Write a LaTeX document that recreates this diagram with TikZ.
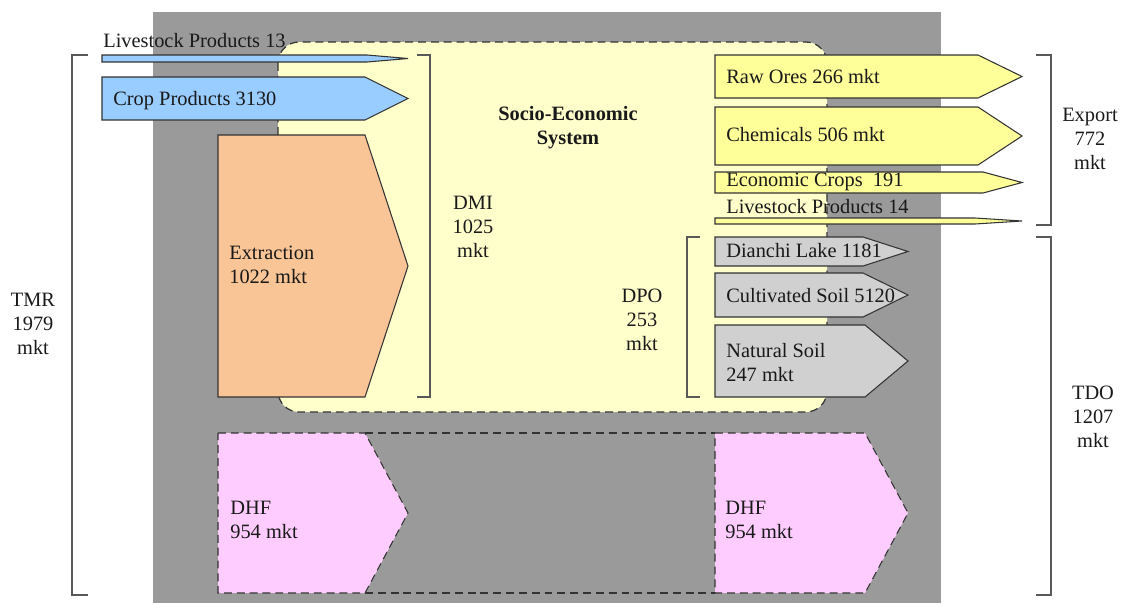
\documentclass[tikz,border=0pt]{standalone}
\usepackage{fontspec}
\setmainfont{Liberation Serif}
\definecolor{bggray}{HTML}{9A9A9A}
\definecolor{sesyellow}{HTML}{FFFFCC}
\definecolor{inblue}{HTML}{99CCFF}
\definecolor{extorange}{HTML}{F9C496}
\definecolor{outyellow}{HTML}{FFFF99}
\definecolor{dpogray}{HTML}{D0D0D0}
\definecolor{dhfpink}{HTML}{FFCCFF}
\tikzset{
  flow/.style={draw=black!80, line width=0.6pt, line join=miter},
  dsh/.style={dash pattern=on 4.5pt off 2.8pt},
  brk/.style={draw=black!65, line width=0.9pt},
  lbl/.style={inner sep=0pt, anchor=north west, align=left, text=black!90,
    font=\fontsize{11.6}{13.6}\selectfont},
  tot/.style={inner sep=0pt, anchor=north, align=center, text=black!90,
    font=\fontsize{11.6}{13.6}\selectfont}
}
\begin{document}
\begin{tikzpicture}[x=0.02cm,y=-0.02cm]
\useasboundingbox (0,0) rectangle (1125,603);
% background and socio-economic system
\fill [bggray] (153,12) rectangle (941,603);
\filldraw [sesyellow, draw=black!80, line width=0.7pt, dsh, rounded corners=12pt] (278,42) rectangle (827,412);
\node [tot, font=\fontsize{11.6}{13.6}\selectfont\bfseries] (ses) at (568,106) {Socio-Economic\\System};
% inputs
\filldraw [flow, fill=inblue] (102,55)--(367,55)--(408,58.5)--(367,62)--(102,62)--cycle;
\filldraw [flow, fill=inblue] (102,77)--(365,77)--(408,98.5)--(365,120)--(102,120)--cycle;
\filldraw [flow, fill=extorange] (218,135)--(365,135)--(408,266)--(365,397)--(218,397)--cycle;
\node [lbl] (lp13) at (103,33) {Livestock Products 13};
\node [lbl] (crop) at (113,91) {Crop Products 3130};
\node [lbl] (extr) at (229,246) {Extraction\\1022 mkt};
% exports
\filldraw [flow, fill=outyellow] (715,55)--(978,55)--(1022,76.5)--(978,98)--(715,98)--cycle;
\filldraw [flow, fill=outyellow] (715,107)--(978,107)--(1022,136)--(978,165)--(715,165)--cycle;
\filldraw [flow, fill=outyellow] (715,172)--(983,172)--(1022,182.5)--(983,193)--(715,193)--cycle;
\filldraw [flow, fill=outyellow] (715,218)--(975,218)--(1022,221)--(975,224)--(715,224)--cycle;
\node [lbl] (raw) at (726,69) {Raw Ores 266 mkt};
\node [lbl] (chem) at (726,127) {Chemicals 506 mkt};
\node [lbl] (econ) at (726,173) {Economic Crops~ 191};
\node [lbl] (lp14) at (726,199) {Livestock Products 14};
% domestic processed output
\filldraw [flow, fill=dpogray] (715,237)--(863,237)--(908,251.5)--(863,266)--(715,266)--cycle;
\filldraw [flow, fill=dpogray] (715,273)--(863,273)--(908,295)--(863,317)--(715,317)--cycle;
\filldraw [flow, fill=dpogray] (715,325)--(865,325)--(908,361)--(865,397)--(715,397)--cycle;
\node [lbl] (dian) at (726,243) {Dianchi Lake 1181};
\node [lbl] (cult) at (726,288) {Cultivated Soil 5120};
\node [lbl] (nat) at (726,343) {Natural Soil\\247 mkt};
% hidden flows
\draw [flow, dsh] (365,433)--(715,433);
\draw [flow, dsh] (365,593)--(715,593);
\filldraw [flow, dsh, fill=dhfpink] (218,433)--(365,433)--(408,513)--(365,593)--(218,593)--cycle;
\filldraw [flow, dsh, fill=dhfpink] (715,433)--(865,433)--(908,513)--(865,593)--(715,593)--cycle;
\node [lbl] (dhfin) at (230,501) {DHF\\954 mkt};
\node [lbl] (dhfout) at (725,501) {DHF\\954 mkt};
% brackets
\draw [brk] (88,55)--(72,55)--(72,595)--(88,595);
\draw [brk] (417,55)--(430,55)--(430,397)--(417,397);
\draw [brk] (700,237)--(687,237)--(687,397)--(700,397);
\draw [brk] (1036,55)--(1051,55)--(1051,225)--(1036,225);
\draw [brk] (1036,237)--(1051,237)--(1051,595)--(1036,595);
\node [tot] (tmr) at (33,293) {TMR\\1979\\mkt};
\node [tot] (dmi) at (473,196) {DMI\\1025\\mkt};
\node [tot] (dpo) at (642,289) {DPO\\253\\mkt};
\node [tot] (export) at (1090,108) {Export\\772\\mkt};
\node [tot] (tdo) at (1093,386) {TDO\\1207\\mkt};
\end{tikzpicture}
\end{document}
